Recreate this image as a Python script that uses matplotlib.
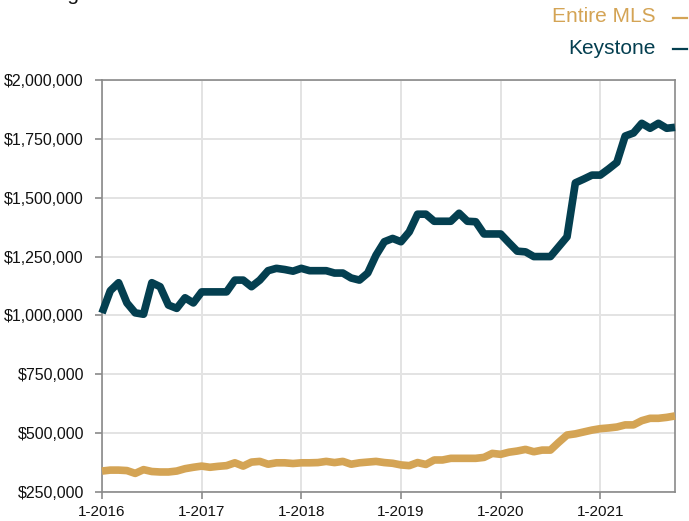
import matplotlib
matplotlib.use("Agg")
import matplotlib.pyplot as plt
from matplotlib.lines import Line2D
from matplotlib.ticker import FuncFormatter, FixedLocator

plt.rcParams['font.family'] = ['Liberation Sans', 'DejaVu Sans']

# Monthly values, Jan 2016 .. Oct 2021
months = [f"{m}-{y}" for y in range(2016, 2022) for m in range(1, 13)][:70]

keystone = [1010000, 1105000, 1139000, 1053000, 1011000, 1005000, 1139000, 1122000,
            1044000, 1030000, 1075000, 1053000, 1100000, 1100000, 1100000, 1100000,
            1150000, 1150000, 1122000, 1150000, 1190000, 1200000, 1195000, 1188000,
            1200000, 1190000, 1190000, 1190000, 1180000, 1180000, 1159000, 1150000,
            1180000, 1256000, 1313000, 1327000, 1313000, 1355000, 1430000, 1430000,
            1400000, 1400000, 1400000, 1434000, 1400000, 1398000, 1346000, 1346000,
            1346000, 1309000, 1273000, 1270000, 1250000, 1250000, 1250000, 1292000,
            1334000, 1563000, 1579000, 1596000, 1596000, 1622000, 1650000, 1762000,
            1775000, 1816000, 1795000, 1816000, 1795000, 1799000]

entire_mls = [339000, 343000, 343000, 341000, 329000, 345000, 337000, 335000,
              335000, 339000, 349000, 355000, 360000, 355000, 359000, 362000,
              374000, 360000, 377000, 380000, 368000, 374000, 374000, 371000,
              374000, 374000, 375000, 380000, 375000, 380000, 368000, 374000,
              377000, 380000, 375000, 372000, 365000, 362000, 375000, 367000,
              386000, 386000, 393000, 393000, 393000, 393000, 397000, 414000,
              410000, 419000, 424000, 431000, 421000, 428000, 428000, 461000,
              492000, 497000, 505000, 513000, 519000, 522000, 526000, 535000,
              535000, 553000, 563000, 563000, 567000, 573000]

x_tick_labels = ["1-2016", "1-2017", "1-2018", "1-2019", "1-2020", "1-2021"]
y_ticks = [250000, 500000, 750000, 1000000, 1250000, 1500000, 1750000, 2000000]

series_names = ["Entire MLS", "Keystone"]
gold = "#D4A455"
teal = "#043F50"

fig = plt.figure(figsize=(6.89, 5.21), dpi=100)
ax = fig.add_axes([102/689, 29/521, 573/689, 412/521])

xs = list(range(len(months)))
ax.plot(xs, entire_mls, color=gold, lw=5.5, solid_capstyle='butt', solid_joinstyle='round',
        zorder=3, clip_on=False)
ax.plot(xs, keystone, color=teal, lw=5.5, solid_capstyle='butt', solid_joinstyle='round',
        zorder=3, clip_on=False)

ax.set_xlim(0, len(months) - 1)
ax.set_ylim(250000, 2000000)
ax.yaxis.set_major_locator(FixedLocator(y_ticks))
ax.yaxis.set_major_formatter(FuncFormatter(lambda v, p: f"${v:,.0f}"))
tick_pos = [months.index(l) for l in x_tick_labels]
ax.set_xticks(tick_pos)
ax.set_xticklabels(x_tick_labels)

ax.grid(True, color="#e3e3e3", lw=1.4, zorder=0)
ax.set_axisbelow(True)
for s in ax.spines.values():
    s.set_color("#8a8a8a")
    s.set_linewidth(1.2)
ax.tick_params(axis='both', colors="#8a8a8a", length=5, width=1.2, labelcolor="#111111")
ax.tick_params(axis='y', pad=8, labelsize=11.5)
ax.tick_params(axis='x', pad=4, labelsize=11)

# legend-like labels at top right
for i, (name, col) in enumerate(zip(series_names, [gold, teal])):
    yc = 17 + 31 * i
    fig.text(656/689, 1 - yc / 521, name, color=col, fontsize=15, ha='right', va='center')
    fig.add_artist(Line2D([673/689, 687/689], [1 - (yc + 0.5) / 521] * 2,
                          transform=fig.transFigure, color=col, lw=1.6))

# title (cut off at the top edge in the reference)
fig.text(15/689, 1 + 0.5/521, "Rolling", color="#111111", fontsize=15, ha='left', va='baseline')
fig.text(80/689, 1 + 0.5/521, " 12-Month Median Sale Price", color="#8a8a8a", fontsize=15,
         ha='left', va='baseline')

fig.savefig("out.png", dpi=100)
